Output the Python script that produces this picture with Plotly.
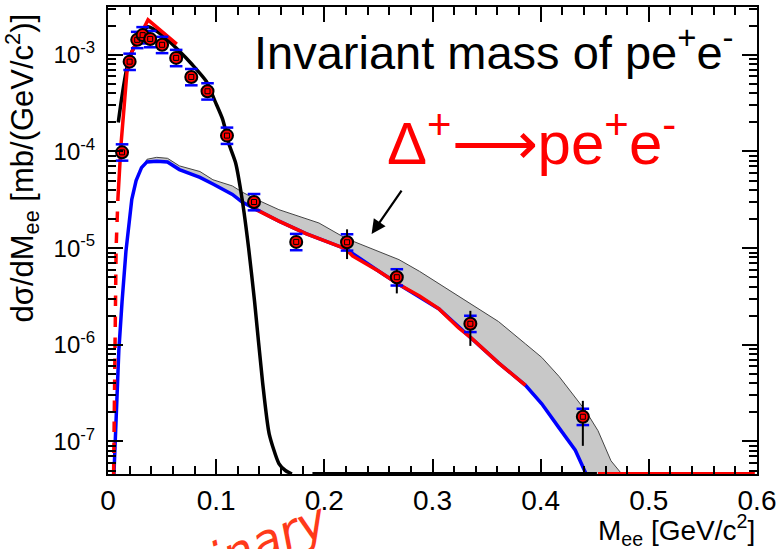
import plotly.graph_objects as go
import numpy as np

# ---------------- data ----------------
YBOT = 4.6e-8   # bottom of the y range (histograms at zero drawn here)

# measured points
pt_x = [0.013, 0.020, 0.027, 0.032, 0.039, 0.050, 0.063, 0.077, 0.092, 0.110,
        0.135, 0.174, 0.221, 0.267, 0.335, 0.439]
pt_y = [9.8e-5, 8.5e-4, 1.43e-3, 1.60e-3, 1.46e-3, 1.27e-3, 9.3e-4, 5.9e-4, 4.2e-4, 1.46e-4,
        3.0e-5, 1.16e-5, 1.15e-5, 5.0e-6, 1.65e-6, 1.8e-7]
stat_up = [0.06, 0.05, 0.05, 0.05, 0.05, 0.05, 0.05, 0.05, 0.05, 0.06,
           0.10, 0.10, 0.36, 0.21, 0.36, 0.46]
stat_dn = [0.06, 0.05, 0.05, 0.05, 0.05, 0.05, 0.05, 0.05, 0.05, 0.06,
           0.10, 0.10, 0.33, 0.32, 0.41, 0.50]
sys_up = [0.21] * 16
sys_dn = [0.18] * 16

# black curve (total cocktail)
blk_x = [0.0095, 0.020, 0.037, 0.050, 0.064, 0.078, 0.091, 0.099, 0.106, 0.112,
         0.118, 0.124, 0.130, 0.1355, 0.143, 0.149, 0.158, 0.164, 0.170]
blk_y = [2.0e-4, 9.5e-4, 1.95e-3, 1.6e-3, 1.15e-3, 7.9e-4, 5.3e-4, 3.3e-4, 2.15e-4, 1.18e-4,
         7.6e-5, 3.2e-5, 1.0e-5, 2.8e-6, 4.0e-7, 1.2e-7, 5.9e-8, 5.0e-8, YBOT]
blk_flat_x = [0.189, 0.452]
blk_flat_y = [YBOT, YBOT]

# red curve
red_dash_x = [0.0052, 0.0062, 0.0075, 0.0092]
red_dash_y = [YBOT, 1.0e-6, 1.0e-5, 3.3e-5]
red_rise_x = [0.0092, 0.012, 0.0175, 0.022, 0.037, 0.0636]
red_rise_y = [3.3e-5, 1.17e-4, 6.6e-4, 1.07e-3, 2.3e-3, 1.29e-3]
red_tail_x = [0.137, 0.158, 0.183, 0.205, 0.220, 0.226, 0.250, 0.269, 0.288, 0.306,
              0.324, 0.336, 0.361, 0.386]
red_tail_y = [2.5e-5, 1.9e-5, 1.41e-5, 1.15e-5, 9.8e-6, 8.3e-6, 5.8e-6, 4.2e-6, 3.2e-6, 2.35e-6,
              1.5e-6, 1.17e-6, 6.5e-7, 3.8e-7]
red_flat_x = [0.453, 0.598]
red_flat_y = [YBOT, YBOT]

# blue curve
blu_x = [0.0055, 0.008, 0.010, 0.013, 0.0166, 0.022, 0.026, 0.031, 0.036, 0.045,
         0.055, 0.066, 0.085, 0.097, 0.115, 0.124, 0.137, 0.158, 0.183, 0.220,
         0.250, 0.269, 0.306, 0.336, 0.361, 0.386, 0.401, 0.417, 0.432, 0.442]
blu_y = [YBOT, 2.5e-7, 8.7e-7, 2.8e-6, 9.3e-6, 3.2e-5, 5.0e-5, 6.8e-5, 7.8e-5, 7.9e-5,
         7.8e-5, 6.5e-5, 5.4e-5, 4.6e-5, 3.6e-5, 3.0e-5, 2.5e-5, 1.9e-5, 1.41e-5, 9.8e-6,
         5.8e-6, 4.2e-6, 2.35e-6, 1.17e-6, 6.5e-7, 3.8e-7, 2.45e-7, 1.38e-7, 8.1e-8, YBOT]

# grey band (systematic envelope)
band_x = [0.030, 0.036, 0.045, 0.055, 0.066, 0.085, 0.097, 0.115, 0.124, 0.137,
          0.158, 0.183, 0.195, 0.220, 0.250, 0.269, 0.288, 0.306, 0.324, 0.336,
          0.361, 0.386, 0.401, 0.417, 0.432, 0.442, 0.453, 0.465, 0.475]
band_lo = [6.2e-5, 7.8e-5, 7.9e-5, 7.8e-5, 6.5e-5, 5.4e-5, 4.6e-5, 3.6e-5, 3.0e-5, 2.5e-5,
           1.9e-5, 1.41e-5, 1.26e-5, 9.8e-6, 5.8e-6, 4.2e-6, 3.2e-6, 2.35e-6, 1.5e-6, 1.17e-6,
           6.5e-7, 3.8e-7, 2.45e-7, 1.38e-7, 8.1e-8, YBOT, YBOT, YBOT, YBOT]
band_hi = [6.2e-5, 8.3e-5, 8.7e-5, 8.5e-5, 7.1e-5, 6.2e-5, 5.1e-5, 4.4e-5, 3.8e-5, 3.2e-5,
           2.5e-5, 2.04e-5, 1.82e-5, 1.26e-5, 9.3e-6, 7.6e-6, 5.75e-6, 4.3e-6, 3.2e-6, 2.6e-6,
           1.74e-6, 1.02e-6, 7.4e-7, 4.7e-7, 2.8e-7, 2.04e-7, 1.29e-7, 6.3e-8, YBOT]

x_ticks = [0, 0.1, 0.2, 0.3, 0.4, 0.5, 0.6]
x_ticktext = ["0", "0.1", "0.2", "0.3", "0.4", "0.5", "0.6"]
y_ticks = [1e-7, 1e-6, 1e-5, 1e-4, 1e-3]
y_ticktext = ["10<sup>-7</sup>", "10<sup>-6</sup>", "10<sup>-5</sup>", "10<sup>-4</sup>", "10<sup>-3</sup>"]

# ---------------- figure ----------------
FONT = "Liberation Sans, Arial, Helvetica, sans-serif"
fig = go.Figure()

fig.add_trace(go.Scatter(x=band_x + band_x[::-1], y=band_hi + band_lo[::-1],
                         fill="toself", fillcolor="#c8c8c8", line=dict(width=0),
                         mode="lines", hoverinfo="skip", showlegend=False))
fig.add_trace(go.Scatter(x=band_x, y=band_hi, mode="lines",
                         line=dict(color="#444444", width=1), showlegend=False))
fig.add_trace(go.Scatter(x=blu_x, y=blu_y, mode="lines",
                         line=dict(color="#0000ff", width=3.5), showlegend=False))
fig.add_trace(go.Scatter(x=blk_x, y=blk_y, mode="lines",
                         line=dict(color="black", width=3.5, shape="spline", smoothing=0.6),
                         showlegend=False))
fig.add_trace(go.Scatter(x=blk_flat_x, y=blk_flat_y, mode="lines",
                         line=dict(color="black", width=4), showlegend=False))
fig.add_trace(go.Scatter(x=red_dash_x, y=red_dash_y, mode="lines",
                         line=dict(color="#ff0000", width=3.5, dash="dash"), showlegend=False))
fig.add_trace(go.Scatter(x=red_rise_x, y=red_rise_y, mode="lines",
                         line=dict(color="#ff0000", width=3.5), showlegend=False))
fig.add_trace(go.Scatter(x=red_tail_x, y=red_tail_y, mode="lines",
                         line=dict(color="#ff0000", width=3.5), showlegend=False))
fig.add_trace(go.Scatter(x=red_flat_x, y=red_flat_y, mode="lines",
                         line=dict(color="#ff0000", width=4), showlegend=False))

# systematic brackets (blue)
py = np.array(pt_y)
fig.add_trace(go.Scatter(x=pt_x + pt_x, y=list(py * (1 + np.array(sys_up))) + list(py * (1 - np.array(sys_dn))),
                         mode="markers",
                         marker=dict(symbol="line-ew-open", size=9, color="#0000ff",
                                     line=dict(color="#0000ff", width=2.5)),
                         showlegend=False))
# data points with statistical errors
fig.add_trace(go.Scatter(x=pt_x, y=pt_y, mode="markers",
                         error_y=dict(type="data", symmetric=False,
                                      array=list(py * np.array(stat_up)),
                                      arrayminus=list(py * np.array(stat_dn)),
                                      color="black", thickness=2, width=0),
                         marker=dict(symbol="circle", size=12, color="#ff0000",
                                     line=dict(color="black", width=2)),
                         showlegend=False))
fig.add_trace(go.Scatter(x=pt_x, y=pt_y, mode="markers",
                         marker=dict(symbol="square-open", size=5, color="black",
                                     line=dict(color="black", width=1)),
                         showlegend=False))

minor_y = [k * 10.0 ** e for e in range(-8, -2) for k in range(2, 10)]

fig.update_layout(
    width=781, height=549,
    margin=dict(l=108, r=23, t=5, b=75),
    paper_bgcolor="white", plot_bgcolor="white",
    font=dict(family=FONT, color="black"),
    xaxis=dict(range=[0, 0.6], tickvals=x_ticks, ticktext=x_ticktext,
               ticks="inside", ticklen=15, tickwidth=1.5, tickcolor="black",
               minor=dict(dtick=0.02, ticks="inside", ticklen=8, tickwidth=1.5, tickcolor="black"),
               showline=True, linecolor="black", linewidth=2, mirror="allticks",
               showgrid=False, zeroline=False, tickfont=dict(size=28, family=FONT)),
    yaxis=dict(type="log", range=[np.log10(YBOT), -2.505], tickvals=y_ticks, ticktext=y_ticktext,
               ticks="inside", ticklen=15, tickwidth=1.5, tickcolor="black",
               minor=dict(tickmode="array", tickvals=minor_y, ticks="inside", ticklen=8,
                          tickwidth=1.5, tickcolor="black"),
               showline=True, linecolor="black", linewidth=2, mirror="allticks",
               showgrid=False, zeroline=False, tickfont=dict(size=24, family=FONT),
               ticklabelstandoff=6),
)

fig.add_annotation(text="Invariant mass of pe<sup>+</sup>e<sup>-</sup>", xref="paper", yref="paper",
                   x=(737 - 108) / 650, y=(474 - 47) / 469, xanchor="right", yanchor="middle",
                   showarrow=False, font=dict(size=47, family=FONT, color="black"))
fig.add_annotation(text="Δ<sup>+</sup>⟶pe<sup>+</sup>e<sup>-</sup>", xref="paper", yref="paper",
                   x=(532 - 108) / 650, y=(474 - 138) / 469, xanchor="center", yanchor="middle",
                   showarrow=False, font=dict(size=60, family=FONT, color="#ff0000"))
fig.add_annotation(text="", xref="paper", yref="paper",
                   x=(372 - 108) / 650, y=(474 - 233) / 469, ax=31, ay=-45,
                   showarrow=True, arrowhead=2, arrowsize=1.3, arrowwidth=2.2, arrowcolor="black")
fig.add_annotation(text="dσ/dM<sub>ee</sub> [mb/(GeV/c<sup>2</sup>)]", xref="paper", yref="paper",
                   x=(22 - 108) / 650, y=(474 - 167) / 469, xanchor="center", yanchor="middle",
                   textangle=-90, showarrow=False, font=dict(size=31, family=FONT, color="black"))
fig.add_annotation(text="M<sub>ee</sub> [GeV/c<sup>2</sup>]", xref="paper", yref="paper",
                   x=1.0, y=(474 - 530) / 469, xanchor="right", yanchor="middle",
                   showarrow=False, font=dict(size=28, family=FONT, color="black"))
fig.add_annotation(text="<i>Preliminary</i>", xref="paper", yref="paper",
                   x=(198 - 108) / 650, y=(474 - 568) / 469, xanchor="center", yanchor="middle",
                   textangle=-22, showarrow=False, font=dict(size=48, family="DejaVu Sans", color="#ff3a1a"))

fig.write_html("out.html")
